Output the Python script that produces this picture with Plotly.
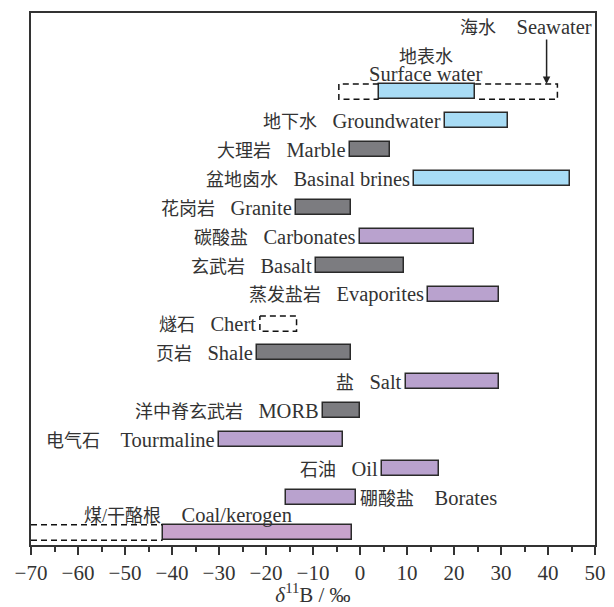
import plotly.graph_objects as go

# ---------------- data ----------------
names_cn = ["地表水", "地下水", "大理岩", "盆地卤水", "花岗岩", "碳酸盐", "玄武岩", "蒸发盐岩",
            "燧石", "页岩", "盐", "洋中脊玄武岩", "电气石", "石油", "硼酸盐", "煤/干酪根"]
names_en = ["Surface water", "Groundwater", "Marble", "Basinal brines", "Granite", "Carbonates",
            "Basalt", "Evaporites", "Chert", "Shale", "Salt", "MORB", "Tourmaline", "Oil",
            "Borates", "Coal/kerogen"]
low = [4.0, 18.0, -2.2, 11.5, -13.6, 0.0, -9.3, 14.4, None, -22.0, 9.8, -7.9, -29.9, 4.7, -15.7, -42.0]
high = [24.5, 31.4, 6.4, 44.6, -2.0, 24.2, 9.3, 29.6, None, -2.0, 29.6, 0.0, -3.7, 16.9, -0.9, -1.7]
group = ["water", "water", "rock", "water", "rock", "salt", "rock", "salt",
         "none", "rock", "salt", "rock", "salt", "salt", "salt", "coal"]
# dashed (uncertain / extended) ranges
surface_ext = [-4.5, 42.0]
chert_range = [-21.3, -13.5]
coal_ext = [-70.0, -42.0]
seawater = 39.7
x_ticks = [-70, -60, -50, -40, -30, -20, -10, 0, 10, 20, 30, 40, 50]

# ---------------- style ----------------
colors = {"water": "#A8DCF5", "rock": "#7C7C80", "salt": "#B9A2CE", "coal": "#C8A3CC"}
edge = "#2a2a2a"
txt = "#333333"
FONT = "Liberation Serif, Noto Sans CJK SC"
FS = 20.5
CJK = 18
H = 0.265                     # half bar height (row units)
pos = list(range(15)) + [15.2]  # row positions
GAP = "\u2002\u00a0"
WIDE = "\u2002\u00a0\u00a0"

def cj(s):
    return '<span style="font-size:%dpx">%s</span>' % (CJK, s)

fig = go.Figure()

# solid bars
idx = [i for i in range(len(names_en)) if low[i] is not None]
fig.add_trace(go.Bar(
    orientation="h",
    y=[pos[i] for i in idx],
    base=[low[i] for i in idx],
    x=[high[i] - low[i] for i in idx],
    width=2 * H,
    marker=dict(color=[colors[group[i]] for i in idx], line=dict(color=edge, width=1.5)),
    hoverinfo="skip", showlegend=False,
))

def dashed(xs, ys):
    fig.add_trace(go.Scatter(x=xs, y=ys, mode="lines",
                             line=dict(color="#111", width=1.5, dash="6px,4px"),
                             hoverinfo="skip", showlegend=False))

# surface water dashed envelope (left and right parts)
r = pos[0]
dashed([low[0], surface_ext[0], surface_ext[0], low[0]], [r - H, r - H, r + H, r + H])
dashed([high[0], surface_ext[1], surface_ext[1], high[0]], [r - H, r - H, r + H, r + H])
# chert dashed box
r = pos[8]
dashed([chert_range[0], chert_range[1], chert_range[1], chert_range[0], chert_range[0]],
       [r - H, r - H, r + H, r + H, r - H])
# coal dashed extension
r = pos[15]
dashed([coal_ext[0], coal_ext[1]], [r - H, r - H])
dashed([coal_ext[0], coal_ext[1]], [r + H, r + H])

ann = []
def label(text, x, y, xanchor="right", xshift=-3, yshift=0, yanchor="middle"):
    ann.append(dict(text=text, x=x, y=y, xref="x", yref="y", xanchor=xanchor, yanchor=yanchor,
                    xshift=xshift, yshift=yshift, showarrow=False, borderpad=0,
                    font=dict(family=FONT, size=FS, color=txt)))

for i in range(1, 14):
    gap = WIDE if names_en[i] == "Tourmaline" else GAP
    start = low[i] if low[i] is not None else chert_range[0]
    label(cj(names_cn[i]) + gap + names_en[i], start, pos[i])
# borates: label to the right
label(cj(names_cn[14]) + WIDE + names_en[14], high[14], pos[14], xanchor="left", xshift=3)
# coal label above bar
label(cj(names_cn[15]) + WIDE + names_en[15], -59.0, pos[15] - 0.6, xanchor="left", xshift=0)
# surface water two-line label
label(cj(names_cn[0]), 14.0, pos[0] - 0.95, xanchor="center", xshift=0, yanchor="bottom", yshift=-4)
label(names_en[0], 14.0, pos[0] - 0.3, xanchor="center", xshift=0, yanchor="bottom", yshift=-3)
# seawater
label(cj("海水") + WIDE + "Seawater", 50, pos[0] - 2.23, xanchor="right", xshift=-2)
ann.append(dict(x=seawater, y=pos[0] - H, ax=seawater, ay=pos[0] - 1.85,
                xref="x", yref="y", axref="x", ayref="y", showarrow=True,
                arrowhead=2, arrowsize=1, arrowwidth=1.5, arrowcolor="#222", text=""))

fig.update_layout(
    width=614, height=607,
    margin=dict(l=31, r=19, t=13, b=62, autoexpand=False),
    paper_bgcolor="white", plot_bgcolor="white",
    annotations=ann,
    bargap=0,
    xaxis=dict(range=[-70, 50], tickvals=x_ticks, ticks="outside", ticklen=8, tickwidth=1.5,
               tickcolor="#333", showline=True, linecolor="#333", linewidth=1.5, mirror=True,
               showgrid=False, zeroline=False, automargin=False,
               minor=dict(dtick=5, tick0=0, ticks="outside", ticklen=5, tickwidth=1.5, tickcolor="#333"),
               tickfont=dict(family=FONT, size=21, color=txt),
               title=dict(text="<i>δ</i><sup>11</sup>B / ‰", font=dict(family=FONT, size=21, color=txt),
                          standoff=0)),
    yaxis=dict(range=[15.63, -2.71], showticklabels=False, ticks="", showline=True, automargin=False,
               linecolor="#333", linewidth=1.5, mirror=True, showgrid=False, zeroline=False),
)

fig.write_html("out.html")
